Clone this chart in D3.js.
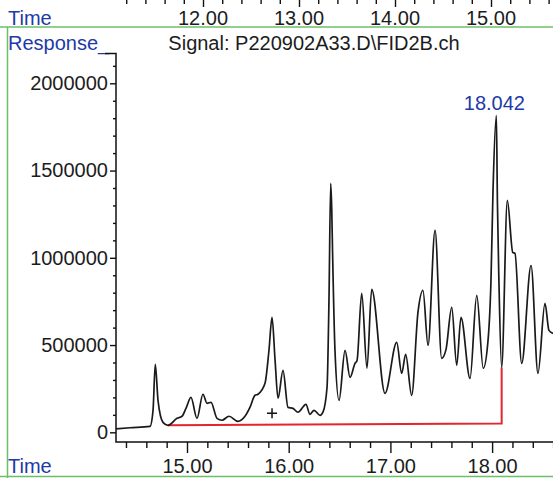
<!DOCTYPE html>
<html>
<head>
<meta charset="utf-8">
<script src="https://cdn.jsdelivr.net/npm/d3@7"></script>
<style>
	body{margin:0;background:#fff;}
	text{font-family:"Liberation Sans",Arial,sans-serif;}
</style>
</head>
<body>
<svg id="chart" width="553" height="478"></svg>
<script>
// retention time (min) and detector response
const timeMin = [14.302,14.440,14.636,14.666,14.688,14.715,14.764,14.813,14.902,14.951,14.990,15.039,15.098,15.157,15.197,15.236,15.295,15.344,15.413,15.501,15.570,15.619,15.669,15.698,15.767,15.806,15.836,15.866,15.895,15.944,15.993,16.042,16.091,16.170,16.209,16.249,16.308,16.337,16.377,16.396,16.413,16.423,16.431,16.455,16.495,16.554,16.603,16.652,16.672,16.718,16.770,16.816,16.947,17.062,17.111,17.150,17.209,17.271,17.320,17.370,17.439,17.504,17.547,17.603,17.652,17.694,17.783,17.849,17.913,17.960,17.989,18.009,18.042,18.052,18.067,18.094,18.150,18.203,18.225,18.291,18.383,18.451,18.520,18.559,18.599];
const response = [20000,26000,34000,126000,389000,183000,57000,40000,80000,92000,137000,200000,80000,218000,166000,172000,80000,69000,92000,63000,92000,143000,212000,218000,281000,470000,659000,412000,195000,355000,143000,137000,115000,160000,103000,126000,97000,115000,258000,756000,1426000,1283000,1042000,470000,183000,470000,315000,395000,412000,796000,367000,819000,223000,515000,338000,447000,212000,687000,813000,498000,1157000,424000,475000,716000,384000,659000,309000,785000,367000,527000,870000,1386000,1815000,1329000,870000,372000,1329000,1031000,1025000,395000,956000,338000,739000,584000,567000];

// integration baseline (red)
const baseTime = [14.813,18.094,18.094];
const baseResp = [40000,51000,372000];

const yTicks = [0,500000,1000000,1500000,2000000];
const xTicks = [15,16,17,18];
const topTicks = [12,13,14,15];

const peakTime = 18.042, peakResp = 1815000, peakLabel = "18.042";
const markTime = 15.836, markResp = 109000;

const blue = "#1d3aa6", green = "#6cbf68", ink = "#1c1c1c";

const svg = d3.select("#chart");

const x = d3.scaleLinear().domain([15,18]).range([187,492.1]);
const y = d3.scaleLinear().domain([0,2000000]).range([432.3,83.3]);
const xTop = d3.scaleLinear().domain([12,15]).range([203,491]);

// frame lines
svg.append("line").attr("x1",0).attr("x2",553).attr("y1",27).attr("y2",27)
	.style("stroke",green).style("stroke-width",1.5);
svg.append("line").attr("x1",7.5).attr("x2",7.5).attr("y1",27).attr("y2",478)
	.style("stroke",green).style("stroke-width",1.5);
svg.append("line").attr("x1",0).attr("x2",553).attr("y1",476.5).attr("y2",476.5)
	.style("stroke",green).style("stroke-width",1.5);

// top strip (previous panel's time axis)
const topMinor = d3.range(11.2,15.61,0.2).filter(d=>Math.abs(d-Math.round(d))>0.01);
svg.append("g")
	.call(d3.axisBottom(xTop).tickValues(topMinor).tickSize(4).tickFormat(""))
	.call(g=>g.select(".domain").remove());
svg.append("g")
	.call(d3.axisBottom(xTop).tickValues(topTicks).tickSize(7).tickFormat(""))
	.call(g=>g.select(".domain").remove());
svg.selectAll(".topLab").data(topTicks).enter().append("text")
	.attr("class","topLab")
	.attr("x",d=>xTop(d)).attr("y",25)
	.attr("text-anchor","middle")
	.style("font-size","20px").style("fill",ink)
	.text(d=>d.toFixed(2));

svg.append("text").attr("x",8).attr("y",24.5).style("font-size","20px").style("fill",blue).text("Time");
svg.append("text").attr("x",8).attr("y",50).style("font-size","20px").style("fill",blue).text("Response_");
svg.append("text").attr("x",8).attr("y",473).style("font-size","20px").style("fill",blue).text("Time");
svg.append("text").attr("x",314).attr("y",50).attr("text-anchor","middle")
	.style("font-size","20px").style("fill",ink).text("Signal: P220902A33.D\\FID2B.ch");

// y axis
const yMinor = d3.range(100000,2100001,100000).filter(d=>d%500000!==0);
svg.append("g").attr("transform","translate(116,0)")
	.call(d3.axisLeft(y).tickValues(yMinor).tickSize(3).tickFormat(""))
	.call(g=>g.select(".domain").remove());
const yAxis = svg.append("g").attr("transform","translate(116,0)")
	.call(d3.axisLeft(y).tickValues(yTicks).tickSize(6).tickPadding(2).tickFormat(d3.format("d")))
	.call(g=>g.select(".domain").remove());
yAxis.selectAll("text").style("font-size","20px").style("fill",ink).style("font-family","Liberation Sans, Arial, sans-serif");

// x axis
const xMinor = d3.range(14.4,18.61,0.2).filter(d=>Math.abs(d-Math.round(d))>0.01);
svg.append("g").attr("transform","translate(0,442)")
	.call(d3.axisBottom(x).tickValues(xMinor).tickSize(6).tickFormat(""))
	.call(g=>g.select(".domain").remove());
const xAxis = svg.append("g").attr("transform","translate(0,442)")
	.call(d3.axisBottom(x).tickValues(xTicks).tickSize(11).tickPadding(6).tickFormat(d3.format(".2f")))
	.call(g=>g.select(".domain").remove());
xAxis.selectAll("text").style("font-size","20px").style("fill",ink).style("font-family","Liberation Sans, Arial, sans-serif");

svg.selectAll(".tick line").style("stroke","#111").style("stroke-width",1.4);

// axis lines with top corner tick
svg.append("path")
	.attr("d",`M105,53.5H116V442H553`)
	.style("fill","none").style("stroke","#111").style("stroke-width",1.5);

// baseline
const baseLine = d3.line().x((d,i)=>x(baseTime[i])).y((d,i)=>y(baseResp[i]));
svg.append("path").datum(baseTime)
	.attr("d",baseLine)
	.style("fill","none").style("stroke","#e3262d").style("stroke-width",2);

// trace
const trace = d3.line()
	.x((d,i)=>x(timeMin[i]))
	.y((d,i)=>y(response[i]))
	.curve(d3.curveMonotoneX);
svg.append("path").datum(timeMin)
	.attr("d",trace)
	.style("fill","none").style("stroke","#1a1a1a").style("stroke-width",1.7)
	.style("stroke-linejoin","round");

// peak label
svg.append("text").attr("x",x(peakTime)-2).attr("y",y(peakResp)-6)
	.attr("text-anchor","middle").style("font-size","20px").style("fill",blue).text(peakLabel);

// plus marker
const mx = x(markTime), my = y(markResp);
svg.append("path").attr("d",`M${mx-5},${my}H${mx+5}M${mx},${my-5}V${my+5}`)
	.style("stroke","#111").style("stroke-width",1.5);
</script>
</body>
</html>
